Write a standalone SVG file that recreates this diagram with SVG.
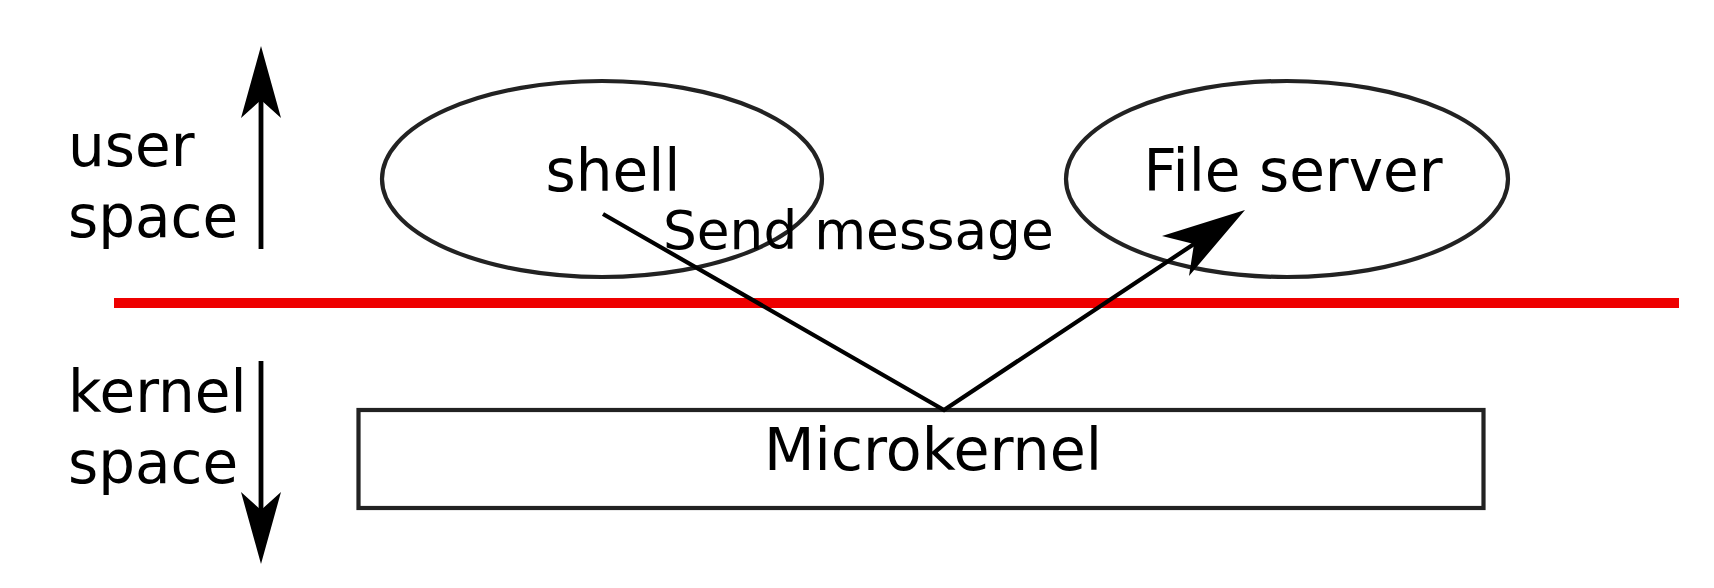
<svg xmlns="http://www.w3.org/2000/svg" width="1714" height="588" viewBox="0 0 1714 588">
<style>
text{font-family:"DejaVu Sans","Liberation Sans",sans-serif;fill:#000}
.big{font-size:58px}
.mk{font-size:58.6px}
.lbl{font-size:53.3px}
.shape{fill:none;stroke:#222;stroke-width:4.2}
.conn{fill:none;stroke:#000;stroke-width:4.2}
.axis{fill:none;stroke:#000;stroke-width:4.8}
</style>
<rect width="1714" height="588" fill="#fff"/>
<g id="side-labels">
<text class="big" x="68" y="166">user</text>
<text class="big" x="68" y="237">space</text>
<text class="big" x="68" y="412">kernel</text>
<text class="big" x="68" y="483">space</text>
<line class="axis" x1="261" y1="100" x2="261" y2="249"/>
<path d="M261,46 L281,118 L261,100 L241,118 Z" fill="#000"/>
<line class="axis" x1="261" y1="361" x2="261" y2="512"/>
<path d="M261,564 L281,492 L261,510 L241,492 Z" fill="#000"/>
</g>
<line id="boundary" x1="114" y1="303" x2="1679" y2="303" stroke="#e00" stroke-width="10"/>
<g id="shell">
<ellipse class="shape" cx="602" cy="179" rx="220" ry="98"/>
<text class="big" x="613" y="191" text-anchor="middle">shell</text>
</g>
<g id="file-server">
<ellipse class="shape" cx="1287" cy="179" rx="221" ry="98"/>
<text class="big" x="1293" y="191" text-anchor="middle">File server</text>
</g>
<g id="microkernel">
<rect class="shape" x="358.5" y="410" width="1125" height="98"/>
<text class="mk" x="933" y="470" text-anchor="middle">Microkernel</text>
</g>
<g id="connectors">
<polyline class="conn" points="603,214 944,410 1200,240"/>
<path d="M1245,210 L1162,236 L1194,244 L1189,276 Z" fill="#000"/>
<text class="lbl" x="663" y="249">Send message</text>
</g>
</svg>
